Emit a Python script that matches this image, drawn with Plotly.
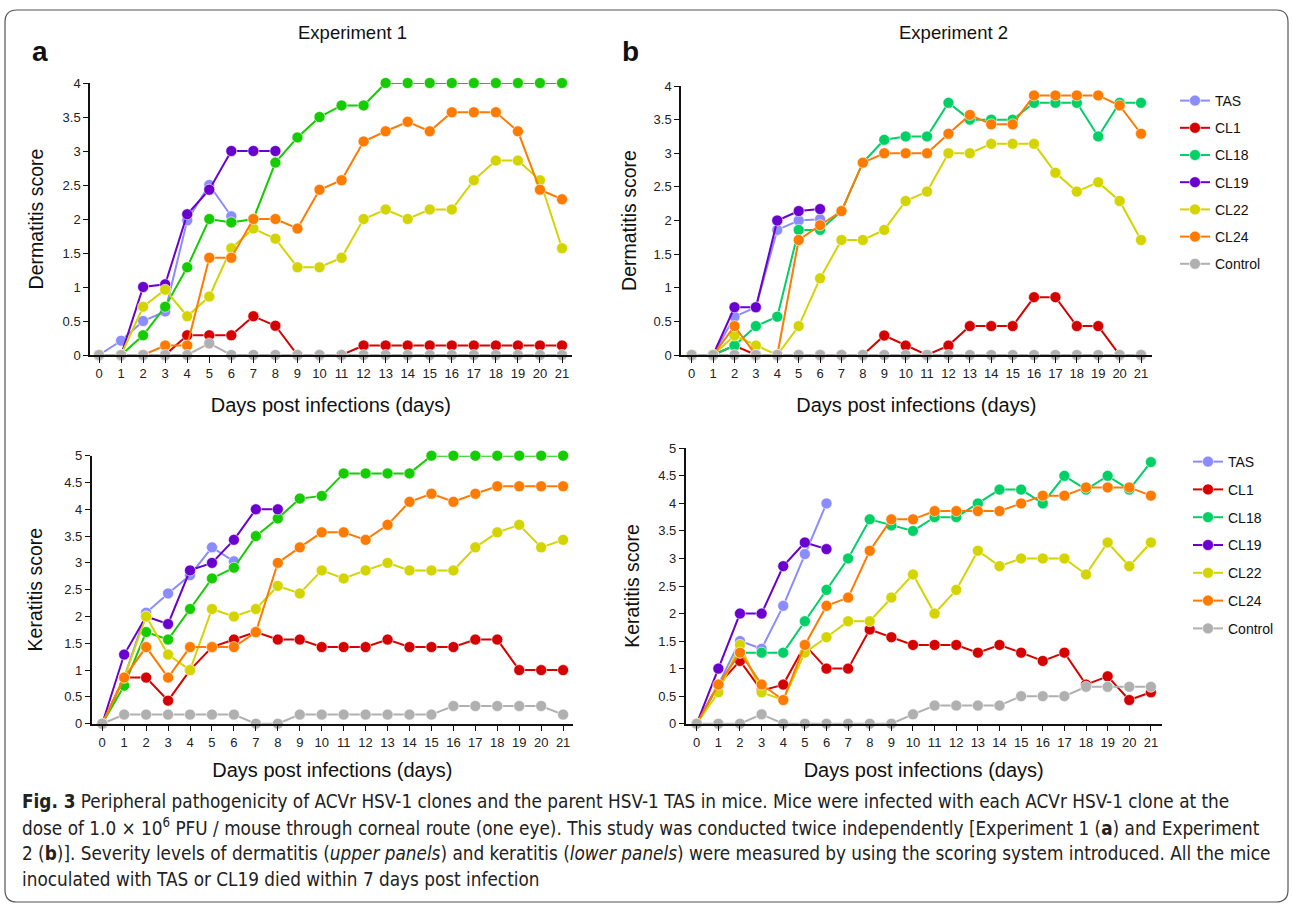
import plotly.graph_objects as go

W, H = 1292, 904
days = list(range(22))
series_names = ["TAS", "CL1", "CL18", "CL19", "CL22", "CL24", "Control"]

# ---- Experiment 1, dermatitis ----
e1_derm_tas = [0, 0.21, 0.5, 0.64, 1.98, 2.5, 2.04]
e1_derm_cl1 = [0, 0, 0, 0, 0.29, 0.29, 0.29, 0.57, 0.43, 0, 0, 0, 0.14, 0.14, 0.14, 0.14, 0.14, 0.14, 0.14, 0.14, 0.14, 0.14]
e1_derm_cl18 = [0, 0, 0.29, 0.71, 1.29, 2.0, 1.95, 2.0, 2.83, 3.2, 3.5, 3.67, 3.67, 4, 4, 4, 4, 4, 4, 4, 4, 4]
e1_derm_cl19 = [0, 0, 1.0, 1.04, 2.07, 2.43, 3.0, 3.0, 3.0]
e1_derm_cl22 = [0, 0, 0.71, 0.96, 0.57, 0.86, 1.57, 1.86, 1.71, 1.29, 1.29, 1.43, 2.0, 2.14, 2.0, 2.14, 2.14, 2.57, 2.86, 2.86, 2.57, 1.57]
e1_derm_cl24 = [0, 0, 0, 0.14, 0.14, 1.43, 1.43, 2.0, 2.0, 1.86, 2.43, 2.57, 3.14, 3.29, 3.43, 3.29, 3.57, 3.57, 3.57, 3.29, 2.43, 2.29]
e1_derm_ctrl = [0, 0, 0, 0, 0, 0.17, 0, 0, 0, 0, 0, 0, 0, 0, 0, 0, 0, 0, 0, 0, 0, 0]

# ---- Experiment 2, dermatitis ----
e2_derm_tas = [0, 0, 0.57, 0.71, 1.86, 2.0, 2.02]
e2_derm_cl1 = [0, 0, 0.14, 0, 0, 0, 0, 0, 0, 0.29, 0.14, 0, 0.14, 0.43, 0.43, 0.43, 0.86, 0.86, 0.43, 0.43, 0, 0]
e2_derm_cl18 = [0, 0, 0.14, 0.43, 0.57, 1.86, 1.86, 2.14, 2.86, 3.2, 3.25, 3.25, 3.75, 3.5, 3.5, 3.5, 3.75, 3.75, 3.75, 3.25, 3.75, 3.75]
e2_derm_cl19 = [0, 0, 0.71, 0.71, 2.0, 2.14, 2.17]
e2_derm_cl22 = [0, 0, 0.29, 0.14, 0, 0.43, 1.14, 1.71, 1.71, 1.86, 2.29, 2.43, 3.0, 3.0, 3.14, 3.14, 3.14, 2.71, 2.43, 2.57, 2.29, 1.71]
e2_derm_cl24 = [0, 0, 0.43, 0, 0, 1.71, 1.93, 2.14, 2.86, 3.0, 3.0, 3.0, 3.29, 3.57, 3.43, 3.43, 3.86, 3.86, 3.86, 3.86, 3.71, 3.29]
e2_derm_ctrl = [0] * 22

# ---- Experiment 1, keratitis ----
e1_kera_tas = [0, 0.86, 2.07, 2.43, 2.77, 3.29, 3.03]
e1_kera_cl1 = [0, 0.86, 0.86, 0.43, 1.0, 1.43, 1.57, 1.71, 1.57, 1.57, 1.43, 1.43, 1.43, 1.57, 1.43, 1.43, 1.43, 1.57, 1.57, 1.0, 1.0, 1.0]
e1_kera_cl18 = [0, 0.71, 1.71, 1.57, 2.14, 2.71, 2.91, 3.5, 3.83, 4.2, 4.25, 4.67, 4.67, 4.67, 4.67, 5, 5, 5, 5, 5, 5, 5]
e1_kera_cl19 = [0, 1.29, 2.0, 1.86, 2.86, 3.0, 3.43, 4.0, 4.0]
e1_kera_cl22 = [0, 0.86, 2.0, 1.29, 1.0, 2.14, 2.0, 2.14, 2.57, 2.43, 2.86, 2.71, 2.86, 3.0, 2.86, 2.86, 2.86, 3.29, 3.57, 3.71, 3.29, 3.43]
e1_kera_cl24 = [0, 0.86, 1.43, 0.86, 1.43, 1.43, 1.43, 1.71, 3.0, 3.29, 3.57, 3.57, 3.43, 3.71, 4.14, 4.29, 4.14, 4.29, 4.43, 4.43, 4.43, 4.43]
e1_kera_ctrl = [0, 0.17, 0.17, 0.17, 0.17, 0.17, 0.17, 0, 0, 0.17, 0.17, 0.17, 0.17, 0.17, 0.17, 0.17, 0.33, 0.33, 0.33, 0.33, 0.33, 0.17]

# ---- Experiment 2, keratitis ----
e2_kera_tas = [0, 0.71, 1.5, 1.36, 2.14, 3.08, 4.0]
e2_kera_cl1 = [0, 0.71, 1.14, 0.6, 0.71, 1.43, 1.0, 1.0, 1.71, 1.57, 1.43, 1.43, 1.43, 1.29, 1.43, 1.29, 1.14, 1.29, 0.71, 0.86, 0.43, 0.57]
e2_kera_cl18 = [0, 0.71, 1.29, 1.29, 1.29, 1.86, 2.43, 3.0, 3.71, 3.6, 3.5, 3.75, 3.75, 4.0, 4.25, 4.25, 4.0, 4.5, 4.25, 4.5, 4.25, 4.75]
e2_kera_cl19 = [0, 1.0, 2.0, 2.0, 2.86, 3.29, 3.17]
e2_kera_cl22 = [0, 0.57, 1.43, 0.57, 0.43, 1.29, 1.57, 1.86, 1.86, 2.29, 2.71, 2.0, 2.43, 3.14, 2.86, 3.0, 3.0, 3.0, 2.71, 3.29, 2.86, 3.29]
e2_kera_cl24 = [0, 0.71, 1.29, 0.71, 0.43, 1.43, 2.14, 2.29, 3.14, 3.71, 3.71, 3.86, 3.86, 3.86, 3.86, 4.0, 4.14, 4.14, 4.29, 4.29, 4.29, 4.14]
e2_kera_ctrl = [0, 0, 0, 0.17, 0, 0, 0, 0, 0, 0, 0.17, 0.33, 0.33, 0.33, 0.33, 0.5, 0.5, 0.5, 0.67, 0.67, 0.67, 0.67]

y_ticks_derm = [0, 0.5, 1, 1.5, 2, 2.5, 3, 3.5, 4]
y_ticks_kera = [0, 0.5, 1, 1.5, 2, 2.5, 3, 3.5, 4, 4.5, 5]
x_ticks = days

colors_exp1 = {"TAS": "#8a8cff", "CL1": "#d50000", "CL18": "#14cc00", "CL19": "#6a00d0",
               "CL22": "#d4d400", "CL24": "#ff7b00", "Control": "#b0b0b0"}
colors_exp2 = dict(colors_exp1, CL18="#00d066")

panels = [
    ([e1_derm_tas, e1_derm_cl1, e1_derm_cl18, e1_derm_cl19, e1_derm_cl22, e1_derm_cl24, e1_derm_ctrl], "x", "y", colors_exp1, None),
    ([e2_derm_tas, e2_derm_cl1, e2_derm_cl18, e2_derm_cl19, e2_derm_cl22, e2_derm_cl24, e2_derm_ctrl], "x2", "y2", colors_exp2, "legend"),
    ([e1_kera_tas, e1_kera_cl1, e1_kera_cl18, e1_kera_cl19, e1_kera_cl22, e1_kera_cl24, e1_kera_ctrl], "x3", "y3", colors_exp1, None),
    ([e2_kera_tas, e2_kera_cl1, e2_kera_cl18, e2_kera_cl19, e2_kera_cl22, e2_kera_cl24, e2_kera_ctrl], "x4", "y4", colors_exp2, "legend2"),
]

FONT = "Liberation Sans, Arial, Helvetica, sans-serif"
fig = go.Figure()
for pi, (series, xa, ya, cols, leg) in enumerate(panels):
    for name, vals in zip(series_names, series):
        c = cols[name]
        tr = dict(x=days[:len(vals)], y=vals, name=name, mode="lines+markers",
                  xaxis=xa, yaxis=ya, cliponaxis=False,
                  line=dict(color=c, width=2),
                  marker=dict(color=c, size=11, line=dict(color="white", width=0.6)),
                  showlegend=leg is not None,
                  legendgroup=f"p{pi}_{name}")
        if leg is not None:
            tr["legend"] = leg
        fig.add_trace(go.Scatter(**tr))

def px_x(p):
    return p / W

def px_y(p):
    return 1 - p / H

axis_common = dict(showline=True, linecolor="#111", linewidth=1.5, ticks="outside",
                   tickcolor="#111", tickwidth=1.2, showgrid=False, zeroline=False,
                   automargin=False,
                   tickfont=dict(family=FONT, size=13, color="#222"))

def xaxis(x0, x1, r0, r1, standoff):
    return dict(axis_common, domain=[px_x(x0), px_x(x1)], range=[r0, r1],
                tickmode="array", tickvals=x_ticks, ticklen=6,
                title=dict(text="Days post infections (days)", standoff=standoff,
                           font=dict(family=FONT, size=20, color="#111")))

def yaxis(y_top, y_bot, rmax, tickvals, title, standoff):
    return dict(axis_common, domain=[px_y(y_bot), px_y(y_top)], range=[0, rmax],
                tickmode="array", tickvals=tickvals, ticklen=5,
                title=dict(text=title, standoff=standoff,
                           font=dict(family=FONT, size=19.5, color="#111")))

fig.update_layout(
    width=W, height=H, margin=dict(l=0, r=0, t=0, b=0, pad=0), autosize=False,
    paper_bgcolor="white", plot_bgcolor="white",
    font=dict(family=FONT, color="#111"),
    xaxis=xaxis(90, 571.7, -0.41, 21.44, 18),
    yaxis=dict(yaxis(83, 355, 4, y_ticks_derm, "Dermatitis score", 14), anchor="x"),
    xaxis2=dict(xaxis(681, 1151.7, -0.5, 21.5, 18), anchor="y2"),
    yaxis2=dict(yaxis(86, 355, 4, y_ticks_derm, "Dermatitis score", 12), anchor="x2"),
    xaxis3=dict(xaxis(91.7, 573, -0.48, 21.45, 14), anchor="y3"),
    yaxis3=dict(yaxis(455.7, 723.7, 5, y_ticks_kera, "Keratitis score", 16), anchor="x3"),
    xaxis4=dict(xaxis(685.7, 1161.7, -0.51, 21.5, 14), anchor="y4"),
    yaxis4=dict(yaxis(448.3, 723.7, 5, y_ticks_kera, "Keratitis score", 13), anchor="x4"),
    legend=dict(x=px_x(1175), y=px_y(85), xanchor="left", yanchor="top",
                traceorder="grouped", tracegroupgap=6,
                font=dict(family=FONT, size=14, color="#111"), bgcolor="rgba(0,0,0,0)"),
    legend2=dict(x=px_x(1188), y=px_y(446), xanchor="left", yanchor="top",
                 traceorder="grouped", tracegroupgap=6.6,
                 font=dict(family=FONT, size=14, color="#111"), bgcolor="rgba(0,0,0,0)"),
)

ann = []
ann.append(dict(text="<b>a</b>", x=px_x(40), y=px_y(52), font=dict(family=FONT, size=28, color="#111")))
ann.append(dict(text="<b>b</b>", x=px_x(630), y=px_y(52), font=dict(family=FONT, size=28, color="#111")))
ann.append(dict(text="Experiment 1", x=px_x(352), y=px_y(33), font=dict(family=FONT, size=18.5, color="#111")))
ann.append(dict(text="Experiment 2", x=px_x(953), y=px_y(33), font=dict(family=FONT, size=18.5, color="#111")))
for a in ann:
    a.update(xref="paper", yref="paper", showarrow=False, xanchor="center", yanchor="middle")

CAP_FONT = "DejaVu Sans Condensed, Liberation Sans Narrow, Liberation Sans, sans-serif"
caption_lines = [
    "<b>Fig. 3</b> Peripheral pathogenicity of ACVr HSV-1 clones and the parent HSV-1 TAS in mice. Mice were infected with each ACVr HSV-1 clone at the",
    "dose of 1.0 × 10<sup>6</sup> PFU / mouse through corneal route (one eye). This study was conducted twice independently [Experiment 1 (<b>a</b>) and Experiment",
    "2 (<b>b</b>)]. Severity levels of dermatitis (<i>upper panels</i>) and keratitis (<i>lower panels</i>) were measured by using the scoring system introduced. All the mice",
    "inoculated with TAS or CL19 died within 7 days post infection",
]
cap_y = [801, 827, 853, 879]
for line, yy in zip(caption_lines, cap_y):
    ann.append(dict(text=line, x=px_x(20), y=px_y(yy), xref="paper", yref="paper", showarrow=False,
                    xanchor="left", yanchor="middle", align="left",
                    font=dict(family=CAP_FONT, size=18.8, color="#222")))
fig.update_layout(annotations=ann)

x0, x1, y0, y1, r = 5, 1288, 10, 902, 12
def P(x, y):
    return f"{px_x(x):.5f},{px_y(y):.5f}"
path = (f"M {P(x0 + r, y0)} L {P(x1 - r, y0)} Q {P(x1, y0)} {P(x1, y0 + r)} "
        f"L {P(x1, y1 - r)} Q {P(x1, y1)} {P(x1 - r, y1)} L {P(x0 + r, y1)} "
        f"Q {P(x0, y1)} {P(x0, y1 - r)} L {P(x0, y0 + r)} Q {P(x0, y0)} {P(x0 + r, y0)} Z")
fig.add_shape(type="path", path=path, xref="paper", yref="paper",
              line=dict(color="#555", width=1.2), fillcolor="rgba(0,0,0,0)", layer="below")

fig.write_html("out.html", config={"displayModeBar": False},
               post_script="document.documentElement.style.margin='0';document.body.style.margin='0';document.body.style.overflow='hidden';")
